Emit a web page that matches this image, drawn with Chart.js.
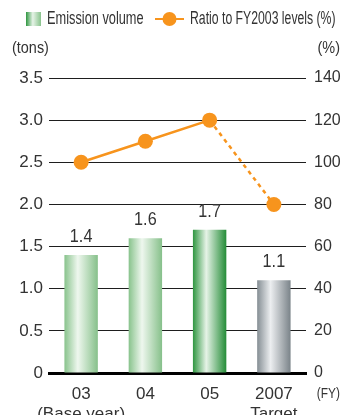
<!DOCTYPE html>
<html>
<head>
<meta charset="utf-8">
<script src="https://cdn.jsdelivr.net/npm/chart.js@4"></script>
<style>
html, body { margin: 0; padding: 0; background: #fff; }
#wrap { width: 342px; height: 415px; position: relative; }
</style>
</head>
<body>
<div id="wrap"><canvas id="emissionChart" width="342" height="415"></canvas></div>
<script>
var categories = [['03', '(Base year)'], ['04'], ['05'], ['2007', 'Target']];
var emissionVolume = [1.4, 1.6, 1.7, 1.1];
var ratioLevels = [100, 110, 120, 80];
var leftTicks = [0, 0.5, 1.0, 1.5, 2.0, 2.5, 3.0, 3.5];
var rightTicks = [0, 20, 40, 60, 80, 100, 120, 140];

var FONT = '"Liberation Sans", Arial, sans-serif';
var TEXT = '#333333';
var ORANGE = '#f7941d';
var BAR_PCT = 0.52;

// edge / centre colours for each bar
var barShades = [
	['#88c38c', '#eef7ee', '#86c08a'],
	['#88c38c', '#eef7ee', '#86c08a'],
	['#2f9640', '#e6f3e7', '#248c37'],
	['#858e94', '#eceef0', '#7a8389']
];

var barGradient = function(context){
	var chart = context.chart, area = chart.chartArea;
	var s = barShades[context.dataIndex];
	if(!area || !chart.scales.x) return s[0];
	var xs = chart.scales.x;
	var cx = xs.getPixelForValue(context.dataIndex);
	var w = (area.right - area.left) / categories.length * BAR_PCT;
	var g = chart.ctx.createLinearGradient(cx - w / 2, 0, cx + w / 2, 0);
	g.addColorStop(0, s[0]);
	g.addColorStop(0.4, s[1]);
	g.addColorStop(1, s[2]);
	return g;
};

// squeeze text horizontally to look like the condensed face of the original
var narrowText = function(ctx, str, x, y, sx){
	ctx.save();
	ctx.translate(x, y);
	ctx.scale(sx, 1);
	ctx.fillText(str, 0, 0);
	ctx.restore();
};

var extrasPlugin = {
	id: 'extras',
	afterDatasetsDraw: function(chart){
		var ctx = chart.ctx;
		ctx.save();
		// value labels above bars
		var meta = chart.getDatasetMeta(0);
		ctx.fillStyle = TEXT;
		ctx.font = '18px ' + FONT;
		ctx.textAlign = 'center';
		ctx.textBaseline = 'alphabetic';
		meta.data.forEach(function(bar, i){
			narrowText(ctx, emissionVolume[i].toFixed(1), bar.x, bar.y - 13, 0.9);
		});
		ctx.restore();
	},
	afterDraw: function(chart){
		var ctx = chart.ctx;
		ctx.save();
		ctx.textBaseline = 'middle';
		// legend
		var g = ctx.createLinearGradient(26, 0, 41, 0);
		g.addColorStop(0, '#2f9640');
		g.addColorStop(0.45, '#e6f3e7');
		g.addColorStop(1, '#88c38c');
		ctx.fillStyle = g;
		ctx.fillRect(26, 12, 15, 14);
		ctx.fillStyle = TEXT;
		ctx.font = '18px ' + FONT;
		ctx.textAlign = 'left';
		narrowText(ctx, 'Emission volume', 47, 19, 0.71);
		ctx.strokeStyle = ORANGE;
		ctx.lineWidth = 2;
		ctx.beginPath();
		ctx.moveTo(155, 19);
		ctx.lineTo(184, 19);
		ctx.stroke();
		ctx.fillStyle = ORANGE;
		ctx.beginPath();
		ctx.arc(169.5, 19, 7, 0, Math.PI * 2);
		ctx.fill();
		ctx.fillStyle = TEXT;
		narrowText(ctx, 'Ratio to FY2003 levels (%)', 190, 19, 0.68);
		// axis units
		ctx.font = '17px ' + FONT;
		narrowText(ctx, '(tons)', 12, 48, 0.85);
		ctx.textAlign = 'right';
		narrowText(ctx, '(%)', 340, 48, 0.85);
		ctx.font = '14px ' + FONT;
		narrowText(ctx, '(FY)', 340, 394, 0.85);
		ctx.restore();
	}
};

var ctx = document.getElementById('emissionChart').getContext('2d');
new Chart(ctx, {
	type: 'bar',
	data: {
		labels: categories,
		datasets: [{
			type: 'bar',
			label: 'Emission volume',
			data: emissionVolume,
			yAxisID: 'y',
			backgroundColor: barGradient,
			borderWidth: 0,
			barPercentage: BAR_PCT,
			categoryPercentage: 1.0,
			order: 2
		}, {
			type: 'line',
			label: 'Ratio to FY2003 levels (%)',
			data: ratioLevels,
			yAxisID: 'y2',
			borderColor: ORANGE,
			backgroundColor: ORANGE,
			borderWidth: 2.5,
			pointRadius: 7.5,
			pointHoverRadius: 7.5,
			pointBorderWidth: 0,
			tension: 0,
			segment: {
				borderDash: function(c){ return c.p1DataIndex === 3 ? [4, 4] : undefined; }
			},
			order: 1
		}]
	},
	options: {
		responsive: false,
		animation: false,
		events: [],
		layout: { padding: { top: 78, left: 0, right: 0, bottom: 0 } },
		plugins: { legend: { display: false }, tooltip: { enabled: false } },
		scales: {
			x: {
				grid: { display: false },
				border: { display: true, color: '#000', width: 3 },
				ticks: { color: TEXT, font: { family: FONT, size: 17, lineHeight: 1.15 }, padding: 4, maxRotation: 0, autoSkip: false },
				afterFit: function(s){ s.height = 42; }
			},
			y: {
				position: 'left',
				min: 0, max: 3.5,
				afterBuildTicks: function(s){ s.ticks = leftTicks.map(function(v){ return { value: v }; }); },
				grid: { color: '#1e1e1e', lineWidth: 1, drawTicks: false },
				border: { display: false },
				ticks: {
					color: TEXT, padding: 6,
					font: { family: FONT, size: 17 },
					callback: function(v){ return v === 0 ? '0' : v.toFixed(1); }
				},
				afterFit: function(s){ s.width = 49; }
			},
			y2: {
				position: 'right',
				min: 0, max: 140,
				afterBuildTicks: function(s){ s.ticks = rightTicks.map(function(v){ return { value: v }; }); },
				grid: { display: false, drawTicks: false },
				border: { display: false },
				ticks: { color: TEXT, padding: 8, font: { family: FONT, size: 16 } },
				afterFit: function(s){ s.width = 36; }
			}
		}
	},
	plugins: [extrasPlugin]
});
</script>
</body>
</html>
